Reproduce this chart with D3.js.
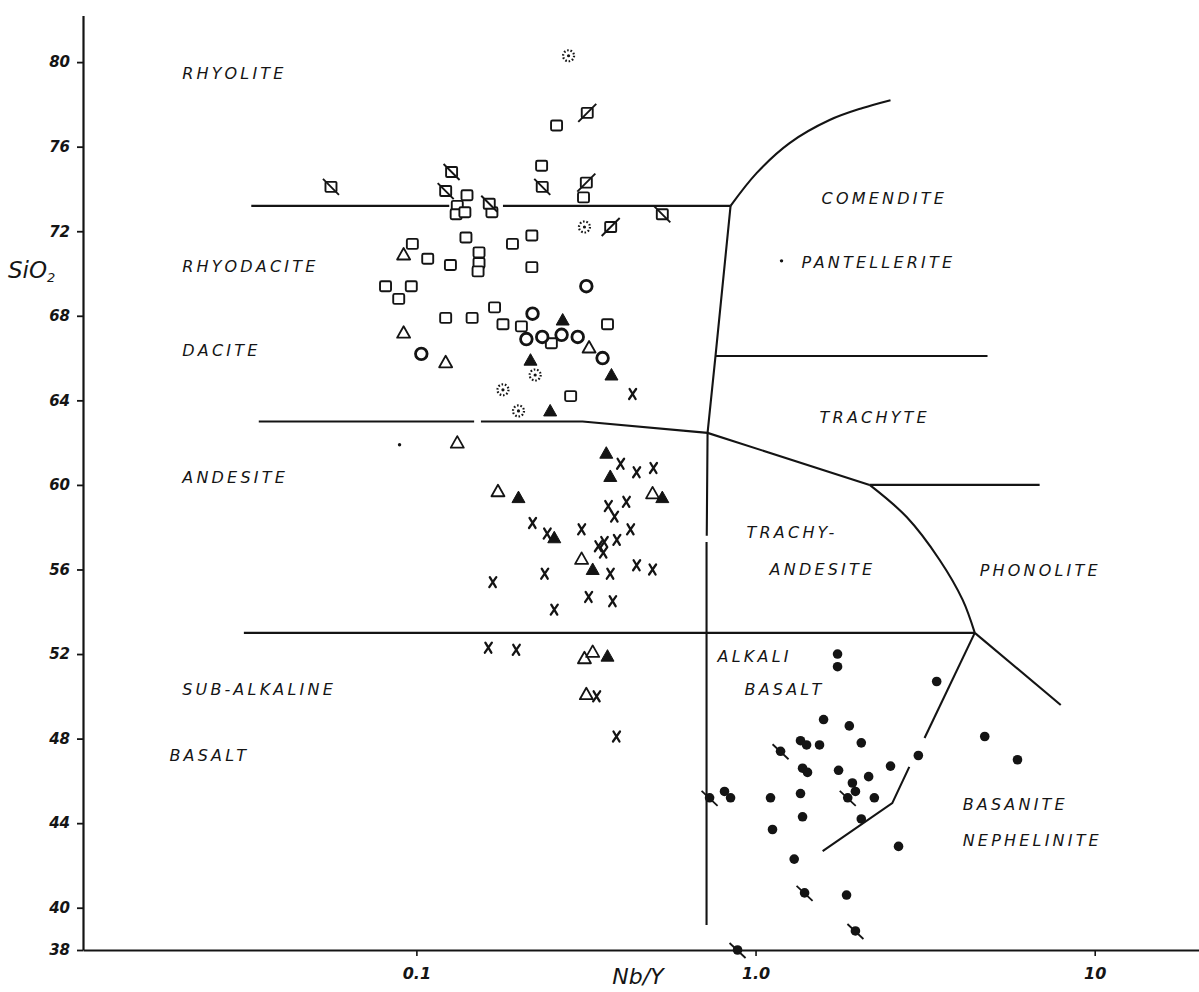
<!DOCTYPE html>
<html><head><meta charset="utf-8">
<script src="https://cdn.jsdelivr.net/npm/d3@7"></script>
<style>
body{margin:0;background:#fff}
text{font-family:"DejaVu Sans",sans-serif;font-style:italic;fill:#151515}
</style>
</head><body><svg id="c" width="1199" height="992"></svg>
<script>
// ---------- DATA (Nb/Y, SiO2 wt%) ----------
const xTickValues = [0.1, 1, 10];
const xTickLabels = ["0.1", "1.0", "10"];
const yTickValues = [80, 76, 72, 68, 64, 60, 56, 52, 48, 44, 40, 38];

const openSquares = [[0.259,77.0],[0.234,75.1],[0.141,73.7],[0.132,73.2],[0.131,72.8],[0.139,72.9],[0.167,72.9],[0.311,73.6],[0.140,71.7],[0.219,71.8],[0.192,71.4],[0.0973,71.4],[0.108,70.7],[0.126,70.4],[0.153,71.0],[0.153,70.5],[0.152,70.1],[0.219,70.3],[0.0811,69.4],[0.0966,69.4],[0.0887,68.8],[0.122,67.9],[0.146,67.9],[0.170,68.4],[0.180,67.6],[0.204,67.5],[0.366,67.6],[0.250,66.7],[0.285,64.2]];
const slashedSquaresBack = [[0.056,74.1],[0.127,74.8],[0.122,73.9],[0.164,73.3],[0.235,74.1],[0.531,72.8]];
const slashedSquaresFwd = [[0.319,77.6],[0.317,74.3],[0.374,72.2]];
const dottedCircles = [[0.281,80.3],[0.313,72.2],[0.224,65.2],[0.180,64.5],[0.200,63.5]];
const openCircles = [[0.317,69.4],[0.220,68.1],[0.211,66.9],[0.235,67.0],[0.268,67.1],[0.299,67.0],[0.354,66.0],[0.1034,66.2]];
const filledTriangles = [[0.270,67.8],[0.217,65.9],[0.376,65.2],[0.248,63.5],[0.363,61.5],[0.373,60.4],[0.200,59.4],[0.531,59.4],[0.255,57.5],[0.331,56.0],[0.366,51.9]];
const openTriangles = [[0.0917,70.9],[0.0917,67.2],[0.122,65.8],[0.323,66.5],[0.132,62.0],[0.174,59.7],[0.497,59.6],[0.307,56.5],[0.313,51.8],[0.331,52.1],[0.317,50.1]];
const crosses = [[0.434,64.3],[0.40,61.0],[0.446,60.6],[0.50,60.8],[0.368,59.0],[0.416,59.2],[0.384,58.5],[0.22,58.2],[0.307,57.9],[0.428,57.9],[0.243,57.7],[0.39,57.4],[0.344,57.1],[0.358,57.3],[0.356,56.8],[0.373,55.8],[0.446,56.2],[0.497,56.0],[0.239,55.8],[0.168,55.4],[0.322,54.7],[0.379,54.5],[0.255,54.1],[0.163,52.3],[0.197,52.2],[0.34,50.0],[0.389,48.1]];
const filledCircles = [[1.745,52.0],[1.745,51.4],[3.42,50.7],[1.587,48.9],[1.89,48.6],[1.357,47.9],[1.414,47.7],[1.544,47.7],[2.05,47.8],[4.74,48.1],[5.92,47.0],[3.02,47.2],[1.376,46.6],[1.423,46.4],[1.757,46.5],[2.50,46.7],[2.155,46.2],[1.93,45.9],[1.97,45.5],[2.24,45.2],[0.81,45.5],[0.844,45.2],[1.107,45.2],[1.357,45.4],[1.376,44.3],[2.05,44.2],[1.122,43.7],[2.64,42.9],[1.30,42.3],[1.855,40.6]];
const tailedCircles = [[1.185,47.4],[1.87,45.2],[0.732,45.2],[1.395,40.7],[1.97,38.9],[0.885,38.0]];
const smallDots = [[0.0892,61.9],[1.193,70.6]];

// field boundaries
const straightBoundaries = [
  [[0.0326,73.2],[0.125,73.2]],
  [[0.18,73.2],[0.844,73.2]],
  [[0.844,73.2],[0.762,66.1],[0.722,62.46],[0.718,57.6]],
  [[0.717,57.3],[0.717,39.18]],
  [[0.762,66.1],[4.83,66.1]],
  [[0.0343,63.0],[0.148,63.0]],
  [[0.155,63.0],[0.309,63.0],[0.722,62.46],[2.17,60.0]],
  [[2.17,60.0],[6.88,60.0]],
  [[0.031,53.0],[4.43,53.0]],
  [[4.43,53.0],[7.94,49.59]],
  [[4.43,53.0],[3.15,48.03]],
  [[2.84,46.66],[2.53,44.95],[1.577,42.68]]
];
const curvedBoundaries = [
  [[0.844,73.2],[1.007,74.75],[1.26,76.17],[1.653,77.26],[2.069,77.83],[2.50,78.2]],
  [[2.17,60.0],[2.79,58.48],[3.49,56.45],[4.08,54.56],[4.43,53.0]]
];

// rock-field names, anchored at their left end
const fieldNames = ["RHYOLITE","RHYODACITE","DACITE","ANDESITE","SUB-ALKALINE","BASALT","COMENDITE","PANTELLERITE","TRACHYTE","TRACHY-","ANDESITE","PHONOLITE","ALKALI","BASALT","BASANITE","NEPHELINITE"];
const fieldAnchors = [[0.0204,79.44],[0.0204,70.31],[0.0204,66.38],[0.0204,60.33],[0.0204,50.30],[0.0187,47.22],[1.566,73.57],[1.367,70.50],[1.545,63.17],[0.941,57.73],[1.10,55.98],[4.58,55.93],[0.773,51.86],[0.928,50.30],[4.08,44.86],[4.08,43.2]];

// ---------- CHART ----------
const svg = d3.select("#c");
const x = d3.scaleLog().domain([0.0104, 20.3]).range([83, 1199]);
const y = d3.scaleLinear().domain([38, 82.2]).range([950, 15.6]);
const ink = "#141414";

svg.append("rect").attr("width",1199).attr("height",992).attr("fill","#fff");

// axes
const yAxis = d3.axisLeft(y).tickValues(yTickValues).tickSize(6).tickSizeOuter(0).tickPadding(7).tickFormat(d3.format("d"));
const gy = svg.append("g").attr("transform","translate(83,0)").call(yAxis);
gy.select(".domain").attr("stroke",ink).attr("stroke-width",2.2);
gy.selectAll(".tick line").attr("stroke",ink).attr("stroke-width",1.8);
gy.selectAll(".tick text").attr("font-size",15).attr("font-family","DejaVu Sans").attr("font-style","italic").attr("font-weight","bold").attr("fill",ink);

const xAxis = d3.axisBottom(x).tickValues(xTickValues).tickSize(6).tickSizeOuter(0).tickPadding(12).tickFormat((d,i)=>xTickLabels[i]);
const gx = svg.append("g").attr("transform","translate(0,950)").call(xAxis);
gx.select(".domain").attr("stroke",ink).attr("stroke-width",2.2);
gx.selectAll(".tick line").attr("stroke",ink).attr("stroke-width",1.6);
gx.selectAll(".tick text").attr("font-size",16).attr("font-family","DejaVu Sans").attr("font-style","italic").attr("font-weight","bold").attr("fill",ink);

// axis titles
const st = svg.append("text").attr("x",8).attr("y",278).attr("font-size",23).attr("font-style","italic");
st.append("tspan").text("SiO");
st.append("tspan").attr("font-size",13).attr("dy",4).text("2");
svg.append("text").attr("x",638).attr("y",984).attr("text-anchor","middle").attr("font-size",22).text("Nb/Y");

// boundaries
const lineGen = d3.line().x(d=>x(d[0])).y(d=>y(d[1]));
const curveGen = d3.line().x(d=>x(d[0])).y(d=>y(d[1])).curve(d3.curveCatmullRom);
svg.append("g").selectAll("path").data(straightBoundaries).join("path")
  .attr("d",lineGen).attr("fill","none").attr("stroke",ink).attr("stroke-width",2.1);
svg.append("g").selectAll("path").data(curvedBoundaries).join("path")
  .attr("d",curveGen).attr("fill","none").attr("stroke",ink).attr("stroke-width",2.1);

// field labels
svg.append("g").selectAll("text").data(fieldNames).join("text")
  .attr("x",(d,i)=>x(fieldAnchors[i][0])).attr("y",(d,i)=>y(fieldAnchors[i][1]))
  .attr("dominant-baseline","central").attr("font-size",16).attr("letter-spacing",3.2)
  .text(d=>d);

// symbols
const tr = d => `translate(${x(d[0])},${y(d[1])})`;
const g = svg.append("g");

g.selectAll(".sq").data(openSquares).join("rect").attr("class","sq")
  .attr("transform",tr).attr("x",-5.5).attr("y",-5).attr("width",11).attr("height",10).attr("rx",1.5)
  .attr("fill","#fff").attr("stroke",ink).attr("stroke-width",1.9);

function slashedSquare(sel, data, dir){
  const s = sel.selectAll(null).data(data).join("g").attr("transform",tr);
  s.append("rect").attr("x",-5.5).attr("y",-5).attr("width",11).attr("height",10).attr("rx",1)
    .attr("fill","#fff").attr("stroke",ink).attr("stroke-width",1.9);
  s.append("path").attr("d", dir>0 ? "M-9,9L9,-9" : "M-8,-8L8,8").attr("stroke",ink).attr("stroke-width",1.9);
}
slashedSquare(g, slashedSquaresBack, -1);
slashedSquare(g, slashedSquaresFwd, 1);

const dc = g.selectAll(".dc").data(dottedCircles).join("g").attr("class","dc").attr("transform",tr);
dc.append("circle").attr("r",5.5).attr("fill","#fff").attr("stroke",ink).attr("stroke-width",2.2).attr("stroke-dasharray","1.6,1.8");
dc.append("circle").attr("r",1.6).attr("fill",ink);

g.selectAll(".oc").data(openCircles).join("circle").attr("class","oc").attr("transform",tr)
  .attr("r",5.8).attr("fill","#fff").attr("stroke",ink).attr("stroke-width",2.8);

const tri = "M0,-6.5L6.5,5L-6.5,5Z";
g.selectAll(".ot").data(openTriangles).join("path").attr("class","ot").attr("transform",tr)
  .attr("d",tri).attr("fill","#fff").attr("stroke",ink).attr("stroke-width",1.8).attr("stroke-linejoin","round");
g.selectAll(".ft").data(filledTriangles).join("path").attr("class","ft").attr("transform",tr)
  .attr("d",tri).attr("fill",ink).attr("stroke",ink).attr("stroke-width",1);

g.selectAll(".cx").data(crosses).join("path").attr("class","cx").attr("transform",tr)
  .attr("d","M-3,-5L3,5M3.5,-5L-3.5,5").attr("stroke",ink).attr("stroke-width",2.3).attr("stroke-linecap","round");

g.selectAll(".fc").data(filledCircles).join("circle").attr("class","fc").attr("transform",tr)
  .attr("r",4.8).attr("fill",ink);
const tc = g.selectAll(".tc").data(tailedCircles).join("g").attr("class","tc").attr("transform",tr);
tc.append("path").attr("d","M-8,-7L8,8").attr("stroke",ink).attr("stroke-width",1.8);
tc.append("circle").attr("r",4.8).attr("fill",ink);

g.selectAll(".sd").data(smallDots).join("circle").attr("class","sd").attr("transform",tr)
  .attr("r",1.7).attr("fill",ink);
</script>
</body></html>
